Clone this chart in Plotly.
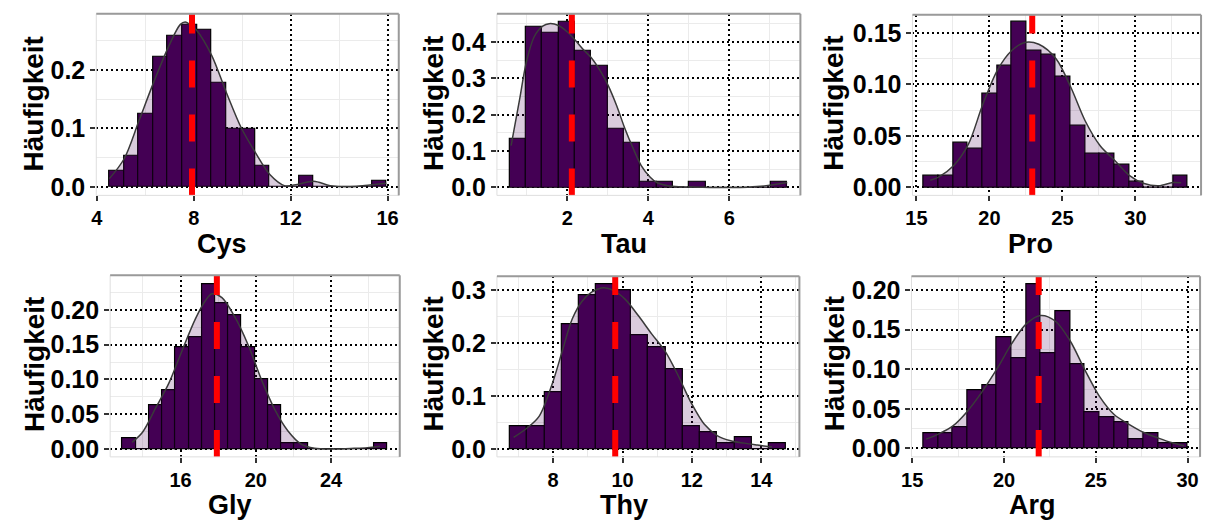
import plotly.graph_objects as go

# ---------------- data ----------------
names = ["Cys", "Tau", "Pro", "Gly", "Thy", "Arg"]

cys_bin_start, cys_bin_width = 4.52, 0.6016
cys_hist = [0.0265, 0.0524, 0.125, 0.2225, 0.258, 0.277, 0.268, 0.178, 0.0986, 0.0986,
            0.036, 0, 0, 0.018, 0, 0, 0, 0, 0.0096]
cys_kde_x = [4.52, 5.13, 5.74, 6.33, 6.93, 7.45, 7.65, 7.9, 8.12, 8.74, 9.35, 9.96, 10.54,
             11.16, 11.74, 12.27, 12.95, 13.63, 14.45, 15.27, 15.95]
cys_kde_y = [0.014, 0.048, 0.113, 0.177, 0.237, 0.278, 0.282, 0.276, 0.268, 0.225, 0.161,
             0.101, 0.059, 0.020, 0.002, 0.004, 0.0096, 0.002, 0.0, 0.003, 0.006]
cys_mean = 7.93

tau_bin_start, tau_bin_width = 0.571, 0.4035
tau_hist = [0.135, 0.441, 0.425, 0.454, 0.376, 0.335, 0.162, 0.122, 0.0154, 0.0154,
            0, 0.0154, 0, 0, 0, 0, 0.0154]
tau_kde_x = [0.61, 0.82, 0.98, 1.18, 1.39, 1.55, 1.78, 2.0, 2.19, 2.41, 2.6, 2.82, 3.0,
             3.22, 3.41, 3.63, 3.82, 4.04, 4.21, 4.49, 4.82, 5.22, 5.63, 6.0, 6.45, 6.86, 7.43]
tau_kde_y = [0.115, 0.242, 0.341, 0.414, 0.443, 0.450, 0.445, 0.427, 0.405, 0.377, 0.355,
             0.319, 0.282, 0.224, 0.165, 0.106, 0.061, 0.029, 0.0136, 0.0045, 0.002, 0.001,
             0.0, 0.0, 0.001, 0.004, 0.0136]
tau_mean = 2.11

pro_bin_start, pro_bin_width = 15.50, 1.0046
pro_hist = [0.0112, 0.0112, 0.0431, 0.0377, 0.0913, 0.118, 0.161, 0.133, 0.129, 0.107,
            0.0594, 0.0326, 0.0326, 0.022, 0.0057, 0, 0, 0.0112]
pro_kde_x = [15.95, 16.52, 17.54, 18.56, 19.53, 20.55, 21.53, 22.48, 23.38, 24.56, 25.58,
             26.56, 27.58, 28.60, 29.57, 30.59, 31.59, 32.56, 33.13]
pro_kde_y = [0.007, 0.010, 0.021, 0.042, 0.080, 0.114, 0.133, 0.141, 0.139, 0.125, 0.097,
             0.0645, 0.0405, 0.026, 0.0118, 0.0038, 0.0016, 0.0048, 0.0045]
pro_mean = 22.93

gly_bin_start, gly_bin_width = 12.92, 0.703
gly_hist = [0.0156, 0, 0.0624, 0.0842, 0.1456, 0.161, 0.237, 0.209, 0.1915, 0.1456,
            0.100, 0.0624, 0.008, 0.008, 0, 0, 0, 0, 0, 0.008]
gly_kde_x = [13.42, 13.98, 14.68, 15.38, 16.09, 16.79, 17.32, 17.67, 18.20, 18.90, 19.60,
             20.31, 21.01, 21.71, 22.41, 23.12, 24.17, 25.23, 25.93, 26.60]
gly_kde_y = [0.0095, 0.024, 0.059, 0.0946, 0.142, 0.187, 0.213, 0.223, 0.2175, 0.189, 0.149,
             0.099, 0.0567, 0.026, 0.0071, 0.001, 0.0, 0.001, 0.002, 0.004]
gly_mean = 17.93

thy_bin_start, thy_bin_width = 6.76, 0.4976
thy_hist = [0.042, 0.042, 0.107, 0.2356, 0.290, 0.311, 0.299, 0.214, 0.192, 0.150,
            0.042, 0.032, 0.011, 0.0217, 0, 0.011]
thy_kde_x = [6.86, 7.26, 7.60, 7.98, 8.27, 8.55, 8.84, 9.12, 9.46, 9.74, 10.08, 10.46,
             10.84, 11.24, 11.60, 11.98, 12.36, 12.74, 13.12, 13.51, 13.89, 14.31]
thy_kde_y = [0.0217, 0.040, 0.062, 0.124, 0.186, 0.245, 0.279, 0.296, 0.304, 0.299, 0.282,
             0.251, 0.217, 0.183, 0.139, 0.087, 0.0465, 0.0248, 0.0155, 0.011, 0.0074, 0.0037]
thy_mean = 9.79

arg_bin_start, arg_bin_width = 15.61, 0.7995
arg_hist = [0.0191, 0.0191, 0.0262, 0.0732, 0.0794, 0.1405, 0.1135, 0.208, 0.1198, 0.1738,
            0.1064, 0.0457, 0.0395, 0.0324, 0.0116, 0.0191, 0.0062, 0.0062]
arg_kde_x = [15.76, 16.42, 17.20, 18.01, 18.82, 19.63, 20.41, 21.20, 21.99, 22.79, 23.60,
             24.41, 25.20, 26.00, 26.81, 27.62, 28.41, 29.21, 29.82]
arg_kde_y = [0.0116, 0.018, 0.028, 0.047, 0.072, 0.101, 0.132, 0.157, 0.168, 0.161, 0.136,
             0.099, 0.0657, 0.0428, 0.0304, 0.020, 0.0129, 0.0067, 0.0033]
arg_mean = 21.89

data = {
    "Cys": (cys_bin_start, cys_bin_width, cys_hist, cys_kde_x, cys_kde_y, cys_mean),
    "Tau": (tau_bin_start, tau_bin_width, tau_hist, tau_kde_x, tau_kde_y, tau_mean),
    "Pro": (pro_bin_start, pro_bin_width, pro_hist, pro_kde_x, pro_kde_y, pro_mean),
    "Gly": (gly_bin_start, gly_bin_width, gly_hist, gly_kde_x, gly_kde_y, gly_mean),
    "Thy": (thy_bin_start, thy_bin_width, thy_hist, thy_kde_x, thy_kde_y, thy_mean),
    "Arg": (arg_bin_start, arg_bin_width, arg_hist, arg_kde_x, arg_kde_y, arg_mean),
}

y_title = "Häufigkeit"

# ---------------- layout / style ----------------
W, H = 1208, 528
boxes = {  # left, top, right, bottom (px)
    "Cys": (87, 13, 392, 197),
    "Tau": (491, 13, 797, 197),
    "Pro": (910, 14, 1201, 197),
    "Gly": (101, 278, 393, 462),
    "Thy": (491, 279, 796, 462),
    "Arg": (909, 279, 1200, 462),
}
xranges = {"Cys": [3.98, 16.46], "Tau": [0.26, 7.755], "Pro": [14.73, 34.49],
           "Gly": [12.26, 27.65], "Thy": [6.38, 15.10], "Arg": [14.96, 30.68]}
yranges = {"Cys": [-0.0147, 0.296], "Tau": [-0.0217, 0.477], "Pro": [-0.0077, 0.1676],
           "Gly": [-0.0113, 0.2496], "Thy": [-0.0149, 0.3255], "Arg": [-0.0108, 0.2175]}
xdt = {"Cys": 4, "Tau": 2, "Pro": 5, "Gly": 4, "Thy": 2, "Arg": 5}
ydt = {"Cys": 0.1, "Tau": 0.1, "Pro": 0.05, "Gly": 0.05, "Thy": 0.1, "Arg": 0.05}
yfmt = {"Cys": ".1f", "Tau": ".1f", "Pro": ".2f", "Gly": ".2f", "Thy": ".1f", "Arg": ".2f"}
xtitle_pos = {"Cys": (214, 246), "Tau": (619, 246), "Pro": (1029, 246),
              "Gly": (222, 511), "Thy": (619, 511), "Arg": (1031, 511)}
ytitle_pos = {"Cys": (24, 104), "Tau": (427, 104), "Pro": (831, 104),
              "Gly": (24, 368), "Thy": (427, 368), "Arg": (831, 368)}

FONT = "Liberation Sans, Arial, sans-serif"
PURPLE = "#440154"
XTICK_SIZE = 20
YTICK_SIZE = 25

fig = go.Figure()
layout = dict(width=W, height=H, margin=dict(l=0, r=0, t=0, b=0),
              font=dict(family=FONT, size=XTICK_SIZE, color="black"),
              paper_bgcolor="white", plot_bgcolor="white", showlegend=False,
              bargap=0)
shapes = []
annotations = []

for i, nm in enumerate(names, start=1):
    xa = "x" if i == 1 else f"x{i}"
    ya = "y" if i == 1 else f"y{i}"
    l, t, r, b = boxes[nm]
    bstart, bw, hist, kx, ky, mean = data[nm]
    centers = [bstart + bw * (k + 0.5) for k in range(len(hist))]

    fig.add_trace(go.Bar(x=centers, y=hist, width=bw, xaxis=xa, yaxis=ya,
                         marker=dict(color=PURPLE, line=dict(color="black", width=1.2)),
                         hoverinfo="skip"))
    fig.add_trace(go.Scatter(x=kx, y=ky, xaxis=xa, yaxis=ya, mode="lines",
                             line=dict(color="#3a3a3a", width=1.5, shape="spline", smoothing=0.9),
                             fill="tozeroy", fillcolor="rgba(68,1,84,0.2)", hoverinfo="skip"))

    common = dict(ticks="outside", ticklen=5, tickwidth=1.5, tickcolor="#333333",
                  showgrid=True, gridcolor="black", gridwidth=2.2, griddash="2px,3px",
                  zeroline=False, showline=False)
    minor = lambda d: dict(tick0=0, dtick=d, showgrid=True, gridcolor="#ebebeb",
                           gridwidth=1, griddash="solid")
    layout["xaxis" if i == 1 else f"xaxis{i}"] = dict(
        domain=[l / W, r / W], range=xranges[nm], anchor=ya,
        tickmode="linear", tick0=0, dtick=xdt[nm], minor=minor(xdt[nm] / 2),
        tickfont=dict(family=FONT, size=XTICK_SIZE, color="black", weight="bold"), **common)
    layout["yaxis" if i == 1 else f"yaxis{i}"] = dict(
        domain=[1 - b / H, 1 - t / H], range=yranges[nm], anchor=xa,
        tickmode="linear", tick0=0, dtick=ydt[nm], tickformat=yfmt[nm], minor=minor(ydt[nm] / 2),
        tickfont=dict(family=FONT, size=YTICK_SIZE, color="black", weight="bold"), **common)

    # mean line
    shapes.append(dict(type="line", xref=xa, yref=f"{ya} domain", x0=mean, x1=mean, y0=0, y1=1,
                       line=dict(color="#ff0000", width=6, dash="27px,27px"), layer="above"))
    # panel border: light left/bottom, darker top/right
    shapes.append(dict(type="rect", xref="paper", yref="paper", x0=l / W, x1=r / W,
                       y0=1 - b / H, y1=1 - t / H, line=dict(color="#dedede", width=1), layer="above"))
    shapes.append(dict(type="line", xref="paper", yref="paper", x0=l / W, x1=r / W,
                       y0=1 - t / H, y1=1 - t / H, line=dict(color="#9a9a9a", width=2), layer="above"))
    shapes.append(dict(type="line", xref="paper", yref="paper", x0=r / W, x1=r / W,
                       y0=1 - b / H, y1=1 - t / H, line=dict(color="#9a9a9a", width=2), layer="above"))

    tx, ty = xtitle_pos[nm]
    annotations.append(dict(text=nm, x=tx / W, y=1 - ty / H, xref="paper", yref="paper",
                            xanchor="center", yanchor="middle", showarrow=False,
                            font=dict(family=FONT, size=27, color="black", weight="bold")))
    hx, hy = ytitle_pos[nm]
    annotations.append(dict(text=y_title, x=hx / W, y=1 - hy / H, xref="paper", yref="paper",
                            xanchor="center", yanchor="middle", showarrow=False, textangle=-90,
                            font=dict(family=FONT, size=28, color="black", weight="bold")))

layout["shapes"] = shapes
layout["annotations"] = annotations
fig.update_layout(**layout)
fig.write_html("out.html")
